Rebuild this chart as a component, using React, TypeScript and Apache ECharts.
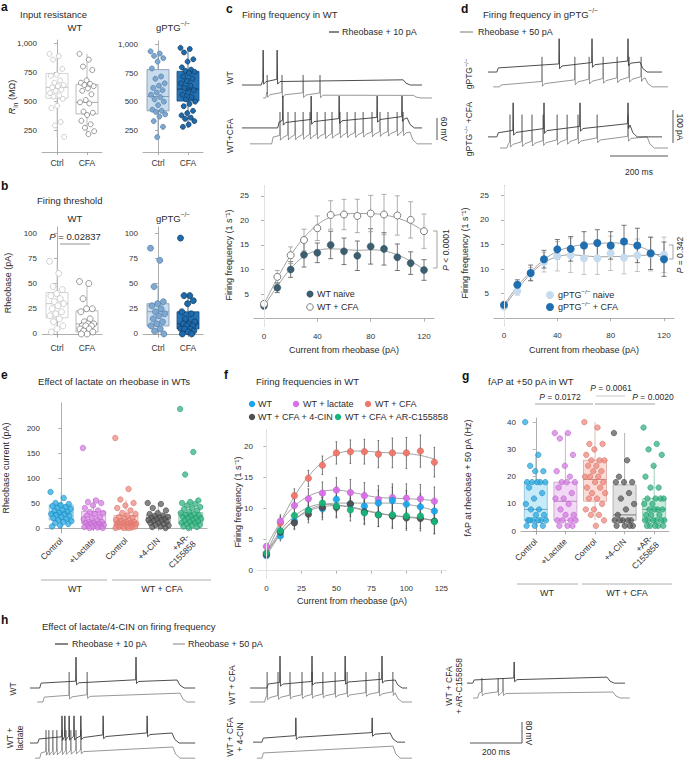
import React, { useEffect, useRef } from "react";
import * as echarts from "echarts";

const FONT = "'Liberation Sans', Arial, Helvetica, sans-serif";
const INK = "#2b2b2b";
const AXIS = "#9b9b9b";
const TITLE = 9.5;
const LEG = 9;
const AXT = 9;

/* ---------------- a: input resistance (MOhm) ---------------- */
const aCats = ["Ctrl", "CFA"];
const aYTicks = [250, 500, 750, 1000];
const aWtCtrl = [910, 890, 860, 780, 730, 720, 680, 660, 640, 630, 620, 600, 590, 570, 550, 540, 520, 460, 440, 320, 290, 190];
const aWtCfa = [910, 860, 800, 770, 680, 660, 650, 640, 630, 610, 590, 560, 510, 490, 480, 410, 400, 380, 330, 300, 270, 240, 215];
const aKoCtrl = [940, 920, 900, 880, 850, 790, 720, 700, 660, 640, 620, 600, 580, 560, 540, 520, 500, 470, 430, 420, 410, 390, 370, 330, 280, 190];
const aKoCfa = [970, 960, 930, 870, 850, 800, 780, 770, 760, 750, 720, 700, 680, 660, 640, 620, 600, 580, 560, 540, 520, 500, 480, 460, 420, 400, 380, 360, 350, 330, 300, 280];
const aWtBox = [[190, 525, 620, 740, 910], [215, 390, 490, 645, 910]];
const aKoBox = [[190, 420, 545, 780, 940], [270, 505, 610, 765, 970]];

/* ---------------- b: rheobase (pA) ---------------- */
const bYTicks = [0, 25, 50, 75, 100];
const bWtCtrl = [72, 60, 47, 44, 40, 38, 35, 32, 30, 28, 25, 22, 20, 18, 15, 12, 8, 5, 2];
const bWtCfa = [52, 50, 35, 25, 25, 22, 15, 12, 10, 10, 8, 8, 8, 5, 5, 3, 2, 0, 0];
const bKoCtrl = [85, 73, 47, 32, 30, 28, 25, 22, 20, 18, 15, 12, 10, 8, 5, 3, 0];
const bKoCfa = [95, 38, 38, 33, 30, 22, 20, 15, 12, 10, 10, 8, 8, 5, 5, 5, 3, 2, 0, 0];
const bWtBox = [[0, 16, 30, 41, 72], [0, 2, 10, 23, 52]];
const bKoBox = [[0, 8, 22, 30, 47], [0, 5, 10, 22, 38]];

/* ---------------- c / d: firing frequency vs current ---------------- */
const cdX = [0, 10, 20, 30, 40, 50, 60, 70, 80, 90, 100, 110, 120];
const cdXTicks = [0, 40, 80, 120];
const cdYTicks = [5, 10, 15, 20, 25];
const cNaiveMean = [2.6, 6.3, 10.0, 13.0, 13.4, 15.0, 13.7, 12.8, 14.7, 14.2, 12.5, 11.3, 9.9];
const cNaiveErr = [0.4, 1.0, 1.6, 2.5, 2.0, 2.8, 2.7, 3.0, 3.6, 3.3, 2.7, 2.3, 2.1];
const cNaiveFit = [2.5, 6.6, 10.2, 12.7, 13.9, 14.2, 14.1, 13.9, 14.0, 13.8, 13.0, 11.7, 10.0];
const cCfaMean = [3.0, 8.5, 12.9, 16.0, 18.4, 21.1, 21.2, 20.9, 21.4, 21.2, 21.0, 20.1, 17.8];
const cCfaErr = [0.5, 1.3, 1.7, 2.2, 2.5, 2.9, 3.1, 3.4, 3.7, 4.1, 4.0, 3.7, 3.5];
const cCfaFit = [3.0, 8.2, 12.9, 16.5, 19.1, 20.7, 21.3, 21.4, 21.4, 21.1, 20.5, 19.4, 17.8];
const dNaiveMean = [2.3, 5.5, 9.0, 11.4, 12.6, 12.8, 12.2, 12.2, 13.2, 12.3, 12.8, 13.0, 12.9];
const dNaiveErr = [0.3, 0.8, 1.3, 2.0, 3.0, 3.5, 3.3, 3.3, 3.5, 3.3, 3.3, 3.4, 3.6];
const dNaiveFit = [2.3, 5.9, 9.0, 11.3, 12.5, 12.9, 12.7, 12.5, 12.5, 12.6, 12.7, 12.9, 13.0];
const dCfaMean = [2.7, 6.8, 9.2, 12.0, 14.0, 14.1, 14.8, 15.3, 14.8, 15.6, 14.8, 13.2, 12.0];
const dCfaErr = [0.4, 1.0, 1.6, 1.8, 2.0, 2.5, 2.8, 2.7, 2.8, 3.3, 3.5, 3.3, 3.5];
const dCfaFit = [2.6, 6.5, 9.4, 11.9, 13.6, 14.5, 15.0, 15.2, 15.3, 15.2, 14.7, 13.6, 12.0];

/* ---------------- e: rheobase current with lactate / inhibitors ---------------- */
const eCats = ["Control", "+Lactate", "Control", "+4-CIN", "+AR-\nC155858"];
const eYTicks = [0, 50, 100, 150, 200];
const eWt = [72, 60, 50, 48, 46, 44, 42, 40, 38, 36, 34, 32, 30, 28, 28, 26, 24, 22, 20, 18, 16, 14, 12, 10, 8, 5, 3];
const eLac = [160, 55, 52, 50, 45, 40, 35, 32, 30, 28, 25, 22, 20, 18, 15, 12, 12, 10, 10, 8, 8, 6, 5, 4, 3, 2, 2, 1, 0, 0];
const eCfa = [180, 78, 57, 50, 45, 40, 35, 30, 28, 25, 22, 20, 18, 16, 15, 14, 12, 12, 10, 10, 10, 8, 8, 7, 6, 5, 5, 4, 3, 3, 2, 2, 1, 0, 0, 0];
const eCin = [50, 48, 40, 35, 30, 28, 25, 24, 22, 20, 20, 18, 18, 16, 15, 14, 12, 10, 10, 8, 6, 5, 3, 2, 0];
const eAr = [238, 152, 107, 55, 52, 50, 48, 45, 42, 40, 38, 35, 32, 30, 28, 26, 25, 24, 22, 20, 20, 18, 16, 15, 14, 12, 10, 10, 8, 6, 5, 3, 2, 0];
const eBox = [[2, 16, 30, 46, 72], [0, 9, 12, 33, 60], [0, 6, 12, 25, 57], [0, 11, 20, 26, 50], [0, 9, 24, 31, 55]];

/* ---------------- f: firing frequencies in WT ---------------- */
const fXTicks = [0, 25, 50, 75, 100, 125];
const fYTicks = [0, 5, 10, 15, 20];
const fWtMean = [2.4, 5.6, 8.0, 9.7, 10.0, 11.5, 10.7, 10.4, 10.9, 11.3, 10.7, 10.3, 9.6];
const fLacMean = [3.9, 8.0, 10.5, 11.6, 12.5, 13.0, 12.6, 12.1, 11.5, 11.8, 11.7, 11.6, 11.2];
const fCfaMean = [2.8, 7.7, 12.1, 14.9, 17.0, 19.0, 19.2, 19.2, 18.8, 19.0, 19.0, 19.3, 17.5];
const fCinMean = [2.6, 6.2, 7.7, 9.1, 10.2, 10.2, 10.8, 9.5, 9.0, 8.8, 8.5, 8.4, 8.0];
const fArMean = [2.8, 6.4, 8.9, 9.7, 10.9, 10.4, 9.8, 9.3, 9.0, 9.0, 8.8, 8.8, 7.9];
const fWtErr = [0.4, 0.8, 1.2, 1.5, 1.8, 2.0, 2.0, 2.1, 2.1, 2.2, 2.2, 2.1, 2.0];
const fLacErr = [0.5, 1.0, 1.3, 1.6, 1.8, 2.0, 2.1, 2.1, 2.2, 2.2, 2.3, 2.3, 2.3];
const fCfaErr = [0.5, 1.0, 1.1, 1.3, 1.5, 1.8, 1.9, 2.0, 2.2, 2.4, 2.5, 2.6, 2.4];
const fCinErr = [0.4, 0.9, 1.1, 1.4, 1.6, 1.7, 1.8, 1.9, 1.9, 2.0, 2.0, 2.0, 2.0];
const fArErr = [0.4, 0.9, 1.1, 1.4, 1.6, 1.7, 1.8, 1.9, 1.9, 2.0, 2.0, 2.0, 2.0];
const fWtFit = [2.4, 5.8, 8.2, 9.8, 10.6, 10.9, 10.9, 10.9, 10.9, 10.9, 10.7, 10.3, 9.7];
const fLacFit = [3.8, 7.8, 10.4, 12.0, 12.8, 13.0, 12.7, 12.2, 11.8, 11.7, 11.6, 11.5, 11.3];
const fCfaFit = [2.8, 7.7, 12.0, 15.2, 17.5, 18.8, 19.3, 19.3, 19.1, 19.0, 18.9, 18.6, 18.0];
const fCinFit = [2.7, 6.0, 8.2, 9.6, 10.3, 10.5, 10.3, 9.8, 9.3, 8.9, 8.6, 8.4, 8.1];
const fArFit = [2.8, 6.4, 8.8, 10.2, 10.7, 10.6, 10.2, 9.7, 9.2, 8.9, 8.7, 8.5, 8.0];

/* ---------------- g: fAP at +50 pA (Hz) ---------------- */
const gYTicks = [0, 10, 20, 30, 40];
const gWt = [40, 28, 24, 22, 22, 18, 18, 18, 18, 18, 16, 14, 12, 10, 8, 8, 6, 6, 4, 4, 4, 4, 4, 4, 2, 2, 2];
const gLac = [36, 36, 34, 28, 24, 22, 20, 18, 18, 18, 16, 14, 12, 12, 10, 8, 6, 6, 4, 4, 4, 4, 2, 2, 2];
const gCfa = [40, 38, 32, 32, 30, 28, 26, 26, 26, 24, 24, 22, 22, 20, 20, 20, 18, 18, 16, 16, 14, 14, 12, 12, 10, 8, 8, 6, 6, 4, 2];
const gCin = [36, 26, 20, 18, 18, 18, 14, 12, 10, 8, 6, 4, 4, 4, 4, 4, 2, 2, 2, 2];
const gAr = [38, 32, 30, 28, 24, 20, 16, 16, 12, 12, 12, 12, 10, 10, 8, 8, 8, 8, 6, 6, 6, 4, 4, 4, 4, 4, 4, 2, 2, 2, 2, 2];
const gBox = [[2, 4, 8, 18, 28], [2, 4, 11, 18, 36], [4, 11, 19, 26, 40], [2, 4, 6, 17, 36], [2, 4, 8, 12, 24]];

/* ---------------- voltage traces (time in ms, potential in mV) ---------------- */
const cWtTop = { start: 0, on: 68, off: 564, end: 630, rest: -68, plat0: -57, plat1: -54, peak: 26, spikes: [74, 123] };
const cWtBot = { start: 74, on: 84, off: 600, end: 665, rest: -103, plat0: -92, plat1: -96, peak: -41, spikes: [88, 140, 214, 273] };
const cCfaTop = { start: 0, on: 126, off: 578, end: 630, rest: -57, plat0: -41, plat1: -30, peak: 29, spikes: [143, 242, 340, 473, 560] };
const cCfaBot = { start: 28, on: 105, off: 588, end: 665, rest: -100, plat0: -82, plat1: -68, peak: -14, spikes: [133, 161, 186, 214, 238, 263, 291, 315, 343, 368, 396, 424, 455, 483, 511, 543, 564] };
const dKoTop = { start: 0, on: 32, off: 532, end: 609, rest: -60, plat0: -49, plat1: -33, peak: 30, spikes: [249, 364, 490] };
const dKoBot = { start: 18, on: 42, off: 550, end: 630, rest: -100, plat0: -95, plat1: -76, peak: -19, spikes: [189, 304, 354, 403, 452, 494, 536] };
const dCfaTop = { start: 0, on: 32, off: 497, end: 609, rest: -65, plat0: -54, plat1: -33, peak: 27, spikes: [88, 196, 322, 490] };
const dCfaBot = { start: 42, on: 67, off: 557, end: 630, rest: -95, plat0: -84, plat1: -65, peak: -5, spikes: [77, 119, 154, 193, 242, 277, 315, 382, 490] };
const hWtTop = { start: 0, on: 35, off: 515, end: 578, rest: -93, plat0: -76, plat1: -65, peak: 15, spikes: [161, 371] };
const hWtBot = { start: 25, on: 46, off: 525, end: 578, rest: -142, plat0: -125, plat1: -111, peak: -37, spikes: [137, 200] };
const hLacTop = { start: 0, on: 28, off: 497, end: 578, rest: -93, plat0: -79, plat1: -58, peak: 2, spikes: [112, 122, 137, 154, 178, 256, 410] };
const hLacBot = { start: 18, on: 35, off: 500, end: 578, rest: -146, plat0: -128, plat1: -107, peak: -48, spikes: [56, 66, 80, 94, 112, 126, 143, 161, 178] };
const hCfaTop = { start: 0, on: 60, off: 508, end: 550, rest: -93, plat0: -79, plat1: -65, peak: 19, spikes: [105, 217, 333, 462] };
const hCfaBot = { start: 0, on: 52, off: 508, end: 567, rest: -142, plat0: -125, plat1: -110, peak: -37, spikes: [60, 98, 140, 182, 217, 255, 298, 340, 406, 452, 500] };
const hCinTop = { start: 0, on: 32, off: 480, end: 532, rest: -90, plat0: -76, plat1: -58, peak: -5, spikes: [150, 417] };
const hCinBot = { start: 14, on: 32, off: 490, end: 556, rest: -146, plat0: -128, plat1: -104, peak: -60, spikes: [] as number[] };
const hArTop = { start: 0, on: 21, off: 490, end: 553, rest: -76, plat0: -65, plat1: -55, peak: -2, spikes: [165] };
const hArBot = { start: 21, on: 38, off: 511, end: 570, rest: -128, plat0: -111, plat1: -107, peak: -58, spikes: [52, 109, 126] };

/* ---------------- styles ---------------- */
const jit = (j: number) => ((j * 0.6180339887) % 1) - 0.5;

const wtOpenStyles = [
  { fill: "#ffffff", stroke: "#c9c9c9", median: "#bdbdbd", pt: "#ffffff", ptEdge: "#bcbcbc" },
  { fill: "#ffffff", stroke: "#a9a9a9", median: "#a0a0a0", pt: "#ffffff", ptEdge: "#6f6f6f" },
];
const koStyles = [
  { fill: "#c9dcee", stroke: "#8096aa", median: "#8096aa", pt: "#7fa8d0", ptEdge: "#527ea8" },
  { fill: "#2372b6", stroke: "#1a4f7e", median: "#103c63", pt: "#1f6aab", ptEdge: "#0d365c" },
];
const fiveStyles = [
  { fill: "#c8ebfa", stroke: "#84bcd6", median: "#5f9fbe", pt: "#2aa9e2", ptEdge: "#1a86b8", ptOpacity: 0.75 },
  { fill: "#f4d8f7", stroke: "#c8a0ce", median: "#b57fbd", pt: "#d57fe2", ptEdge: "#b35cc2", ptOpacity: 0.75 },
  { fill: "#fcdcd7", stroke: "#d9a6a0", median: "#c8857d", pt: "#ef8a7f", ptEdge: "#cf6a5f", ptOpacity: 0.75 },
  { fill: "#e1e1e1", stroke: "#a2a2a2", median: "#6e6e6e", pt: "#5c5c5c", ptEdge: "#3c3c3c", ptOpacity: 0.75 },
  { fill: "#c9ecdc", stroke: "#86c3a8", median: "#4ea883", pt: "#33b383", ptEdge: "#1f9266", ptOpacity: 0.75 },
];
const fColors = ["#1aa6ec", "#d86fe8", "#f0766a", "#4f4f4f", "#16b57a"];

function buildTrace(tr: any) {
  const { start, on, off, end, rest, plat0, plat1, peak, spikes } = tr;
  const lvl = (t: number) => plat0 + ((plat1 - plat0) * (t - on)) / (off - on);
  const pts: number[][] = [[start, rest], [on - 1, rest], [on + 4, lvl(on + 4)]];
  spikes.forEach((s: number, i: number) => {
    const next = i + 1 < spikes.length ? spikes[i + 1] : off;
    const gap = next - s;
    pts.push([s - 1.2, lvl(s) + 4]);
    pts.push([s, peak]);
    pts.push([s + 1.6, lvl(s) - 9]);
    if (gap > 12) pts.push([s + Math.min(10, gap * 0.5), lvl(s + 10) - 2]);
  });
  pts.push([off, lvl(off)]);
  pts.push([off + 10, rest + (lvl(off) - rest) * 0.35]);
  pts.push([off + 25, rest]);
  pts.push([end, rest]);
  pts.sort((a, b) => a[0] - b[0]);
  return pts;
}

function rich(size: number) {
  const base = { fontSize: size, fontFamily: FONT, fill: INK, lineHeight: size * 1.45 };
  return {
    n: { ...base },
    i: { ...base, fontStyle: "italic" },
    sup: { fontSize: size * 0.68, fontFamily: FONT, fill: INK, verticalAlign: "top" },
    sub: { fontSize: size * 0.72, fontFamily: FONT, fill: INK, verticalAlign: "bottom" },
  };
}

function buildOption() {
  const grids: any[] = [];
  const xAxes: any[] = [];
  const yAxes: any[] = [];
  const series: any[] = [];
  const graphics: any[] = [];

  const axLine = { show: true, lineStyle: { color: AXIS, width: 0.8 } };
  const axTick = { show: true, length: 3, lineStyle: { color: AXIS, width: 0.8 } };
  const axLabel = { color: "#333", fontSize: 8, fontFamily: FONT };

  const addGrid = (left: number, top: number, width: number, height: number) => {
    grids.push({ left, top, width, height, containLabel: false, outerBoundsMode: "none" });
    return grids.length - 1;
  };

  function boxPanel(o: any) {
    const gi = addGrid(o.left, o.top, o.width, o.height);
    const n = o.cats.length;
    xAxes.push({
      gridIndex: gi, type: "category", data: o.cats, position: "bottom",
      axisLine: axLine, axisTick: { ...axTick, alignWithLabel: true },
      axisLabel: { ...axLabel, fontSize: 8.5, interval: 0, rotate: o.rotate || 0, margin: o.labelMargin || 6, lineHeight: 9.5 },
      splitLine: { show: false },
    });
    const xv = xAxes.length;
    xAxes.push({ gridIndex: gi, type: "value", min: -0.5, max: n - 0.5, show: false, position: "bottom" });
    const yi = yAxes.length;
    yAxes.push({
      gridIndex: gi, type: "value", min: o.yMin, max: o.yMax,
      axisLine: axLine, axisTick: { ...axTick, customValues: o.yTicks },
      axisLabel: { ...axLabel, margin: 5, customValues: o.yTicks, formatter: o.yFmt || ((v: number) => String(v)) },
      splitLine: { show: false },
    });
    const styles = o.styles;
    series.push({
      type: "custom", xAxisIndex: xv, yAxisIndex: yi, silent: true, z: 2,
      data: o.stats.map((s: number[], i: number) => [i, ...s]),
      encode: { x: 0, y: [1, 2, 3, 4, 5] },
      renderItem: (_p: any, api: any) => {
        const i = api.value(0);
        const st = styles[i];
        const c = (k: number) => api.coord([i, api.value(k)]);
        const lo = c(1), q1 = c(2), md = c(3), q3 = c(4), hi = c(5);
        const x = lo[0];
        const bw = o.boxW;
        const ls = { stroke: st.stroke, lineWidth: 0.8 };
        return {
          type: "group",
          children: [
            { type: "line", shape: { x1: x, y1: lo[1], x2: x, y2: q1[1] }, style: ls },
            { type: "line", shape: { x1: x, y1: q3[1], x2: x, y2: hi[1] }, style: ls },
            { type: "rect", shape: { x: x - bw / 2, y: q3[1], width: bw, height: q1[1] - q3[1] }, style: { fill: st.fill, stroke: st.stroke, lineWidth: 0.8 } },
            { type: "line", shape: { x1: x - bw / 2, y1: md[1], x2: x + bw / 2, y2: md[1] }, style: { stroke: st.median, lineWidth: 0.9 } },
          ],
        };
      },
    });
    o.points.forEach((pts: number[], i: number) => {
      const st = styles[i];
      series.push({
        type: "scatter", xAxisIndex: xv, yAxisIndex: yi, silent: true, z: 3,
        symbolSize: o.size,
        data: pts.map((v, j) => [i + jit(j) * o.spread, v]),
        itemStyle: { color: st.pt, borderColor: st.ptEdge, borderWidth: 0.7, opacity: st.ptOpacity ?? 1 },
      });
    });
  }

  function linePanel(o: any) {
    const gi = addGrid(o.left, o.top, o.width, o.height);
    const xi = xAxes.length;
    xAxes.push({
      gridIndex: gi, type: "value", min: o.xMin, max: o.xMax,
      axisLine: axLine, axisTick: { ...axTick, customValues: o.xTicks },
      axisLabel: { ...axLabel, margin: 6, customValues: o.xTicks },
      splitLine: { show: false },
    });
    const yi = yAxes.length;
    yAxes.push({
      gridIndex: gi, type: "value", min: o.yMin, max: o.yMax,
      axisLine: axLine, axisTick: { ...axTick, customValues: o.yTicks },
      axisLabel: { ...axLabel, margin: 5, customValues: o.yTicks },
      splitLine: { show: false },
    });
    o.groups.forEach((g: any, k: number) => {
      series.push({
        type: "line", xAxisIndex: xi, yAxisIndex: yi, silent: true, z: 2,
        data: o.x.map((x: number, i: number) => [x, g.fit[i]]),
        smooth: 0.35, symbol: "none",
        lineStyle: { color: "#8c8c8c", width: 0.8 },
        markLine: k === 0 ? {
          silent: true, symbol: ["none", "none"], label: { show: false },
          lineStyle: { color: "#e2e2e2", width: 1, type: "solid" }, data: o.zeroLines,
        } : undefined,
      });
    });
    o.groups.forEach((g: any) => {
      series.push({
        type: "custom", xAxisIndex: xi, yAxisIndex: yi, silent: true, z: 3,
        data: o.x.map((x: number, i: number) => [x, g.mean[i], g.err[i]]),
        encode: { x: 0, y: 1 },
        renderItem: (_p: any, api: any) => {
          const x = api.value(0), m = api.value(1), e = api.value(2);
          const a = api.coord([x, m + e]);
          const b = api.coord([x, m - e]);
          const c = o.capW;
          const st = { stroke: g.errColor, lineWidth: 0.8 };
          return {
            type: "group",
            children: [
              { type: "line", shape: { x1: a[0], y1: a[1], x2: b[0], y2: b[1] }, style: st },
              { type: "line", shape: { x1: a[0] - c, y1: a[1], x2: a[0] + c, y2: a[1] }, style: st },
              { type: "line", shape: { x1: b[0] - c, y1: b[1], x2: b[0] + c, y2: b[1] }, style: st },
            ],
          };
        },
      });
    });
    o.groups.forEach((g: any) => {
      series.push({
        type: "scatter", xAxisIndex: xi, yAxisIndex: yi, silent: true, z: 4,
        symbolSize: g.size,
        data: o.x.map((x: number, i: number) => [x, g.mean[i]]),
        itemStyle: { color: g.fill, borderColor: g.edge, borderWidth: g.edgeW ?? 0, opacity: g.opacity ?? 1 },
      });
    });
  }

  function tracePane(left: number, top: number, width: number, height: number, msPerPx: number, mvPerPx: number, traces: any[]) {
    const gi = addGrid(left, top, width, height);
    const xi = xAxes.length;
    xAxes.push({ gridIndex: gi, type: "value", min: 0, max: width * msPerPx, show: false });
    const yi = yAxes.length;
    yAxes.push({ gridIndex: gi, type: "value", min: 40 - height * mvPerPx, max: 40, show: false });
    traces.forEach((t) => {
      series.push({
        type: "line", xAxisIndex: xi, yAxisIndex: yi, silent: true, z: 2, clip: false,
        data: buildTrace(t.tr), symbol: "none",
        lineStyle: { color: t.color, width: t.width },
      });
    });
  }

  /* ---- a ---- */
  const fmtK = (v: number) => v.toLocaleString("en-US");
  boxPanel({ left: 42, top: 40, width: 60, height: 112, cats: aCats, yMin: 60, yMax: 1030, yTicks: aYTicks, yFmt: fmtK, stats: aWtBox, points: [aWtCtrl, aWtCfa], styles: wtOpenStyles, boxW: 22, spread: 0.5, size: 5 });
  boxPanel({ left: 143, top: 41, width: 60, height: 111, cats: aCats, yMin: 60, yMax: 1030, yTicks: aYTicks, yFmt: fmtK, stats: aKoBox, points: [aKoCtrl, aKoCfa], styles: koStyles, boxW: 22, spread: 0.5, size: 5 });
  /* ---- b ---- */
  boxPanel({ left: 42, top: 227, width: 60, height: 110, cats: aCats, yMin: -3, yMax: 106, yTicks: bYTicks, stats: bWtBox, points: [bWtCtrl, bWtCfa], styles: wtOpenStyles, boxW: 22, spread: 0.5, size: 6 });
  boxPanel({ left: 143, top: 227, width: 60, height: 110, cats: aCats, yMin: -3, yMax: 106, yTicks: bYTicks, stats: bKoBox, points: [bKoCtrl, bKoCfa], styles: koStyles, boxW: 22, spread: 0.5, size: 6 });
  /* ---- e ---- */
  boxPanel({ left: 45, top: 403, width: 162, height: 130, cats: eCats, yMin: -10, yMax: 250, yTicks: eYTicks, rotate: 45, labelMargin: 6, stats: eBox, points: [eWt, eLac, eCfa, eCin, eAr], styles: fiveStyles, boxW: 24, spread: 0.66, size: 5.5 });
  /* ---- g ---- */
  boxPanel({ left: 521, top: 418, width: 148, height: 116, cats: eCats, yMin: -1, yMax: 41.5, yTicks: gYTicks, rotate: 45, labelMargin: 6, stats: gBox, points: [gWt, gLac, gCfa, gCin, gAr], styles: fiveStyles, boxW: 23, spread: 0.72, size: 5.5 });

  /* ---- c ---- */
  linePanel({
    left: 254, top: 186, width: 180, height: 140, xMin: -7.5, xMax: 127.5, xTicks: cdXTicks, yMin: -1.5, yMax: 27, yTicks: cdYTicks,
    x: cdX, capW: 2.5, zeroLines: [{ xAxis: 0 }],
    groups: [
      { mean: cNaiveMean, err: cNaiveErr, fit: cNaiveFit, errColor: "#555", fill: "#3b5f70", edge: "#2d4a58", edgeW: 0.5, size: 7 },
      { mean: cCfaMean, err: cCfaErr, fit: cCfaFit, errColor: "#9a9a9a", fill: "#ffffff", edge: "#6f6f6f", edgeW: 0.9, size: 7 },
    ],
  });
  /* ---- d ---- */
  linePanel({
    left: 494, top: 185.5, width: 180, height: 140, xMin: -7.5, xMax: 127.5, xTicks: cdXTicks, yMin: -1.5, yMax: 27, yTicks: cdYTicks,
    x: cdX, capW: 2.5, zeroLines: [{ xAxis: 0 }],
    groups: [
      { mean: dNaiveMean, err: dNaiveErr, fit: dNaiveFit, errColor: "#b5b5b5", fill: "#c6dbed", edge: "#c6dbed", edgeW: 0, size: 8 },
      { mean: dCfaMean, err: dCfaErr, fit: dCfaFit, errColor: "#555", fill: "#1f6eb0", edge: "#1f6eb0", edgeW: 0, size: 8 },
    ],
  });
  /* ---- f ---- */
  linePanel({
    left: 258, top: 430, width: 188, height: 148, xMin: -6, xMax: 128.3, xTicks: fXTicks, yMin: -1.2, yMax: 22.7, yTicks: fYTicks,
    x: cdX, capW: 0.8, zeroLines: [{ xAxis: 0 }, { yAxis: 0 }],
    groups: [
      { mean: fCfaMean, err: fCfaErr, fit: fCfaFit, errColor: "#555", fill: fColors[2], edge: "#c95a50", edgeW: 0.5, size: 6.5, opacity: 0.95 },
      { mean: fLacMean, err: fLacErr, fit: fLacFit, errColor: "#555", fill: fColors[1], edge: "#b656c4", edgeW: 0.5, size: 6.5, opacity: 0.95 },
      { mean: fWtMean, err: fWtErr, fit: fWtFit, errColor: "#555", fill: fColors[0], edge: "#1387c2", edgeW: 0.5, size: 6.5, opacity: 0.95 },
      { mean: fCinMean, err: fCinErr, fit: fCinFit, errColor: "#555", fill: fColors[3], edge: "#333", edgeW: 0.5, size: 6.5, opacity: 0.95 },
      { mean: fArMean, err: fArErr, fit: fArFit, errColor: "#555", fill: fColors[4], edge: "#0f9060", edgeW: 0.5, size: 6.5, opacity: 0.95 },
    ],
  });

  /* ---- traces ---- */
  const TOP = (tr: any) => ({ tr, color: "#3a3a3a", width: 0.9 });
  const BOT = (tr: any) => ({ tr, color: "#6a6a6a", width: 0.7 });
  tracePane(242, 45, 192, 62, 3.5, 2.7, [BOT(cWtBot), TOP(cWtTop)]);
  tracePane(242, 92, 192, 62, 3.5, 2.7, [BOT(cCfaBot), TOP(cCfaTop)]);
  tracePane(488, 35, 182, 62, 3.5, 2.7, [BOT(dKoBot), TOP(dKoTop)]);
  tracePane(488, 98, 182, 55, 3.5, 2.7, [BOT(dCfaBot), TOP(dCfaTop)]);
  tracePane(30, 650, 168, 56, 3.5, 3.5, [BOT(hWtBot), TOP(hWtTop)]);
  tracePane(30, 705, 168, 56, 3.5, 3.5, [BOT(hLacBot), TOP(hLacTop)]);
  tracePane(250, 650, 165, 56, 3.5, 3.5, [BOT(hCfaBot), TOP(hCfaTop)]);
  tracePane(253, 705, 162, 56, 3.5, 3.5, [BOT(hCinBot), TOP(hCinTop)]);
  tracePane(467, 650, 165, 56, 3.5, 3.5, [BOT(hArBot), TOP(hArTop)]);

  /* ---- graphics: texts, legends, annotations ---- */
  const txt = (x: number, y: number, text: string, o: any = {}) => ({
    type: "text", x, y, rotation: o.rot || 0, silent: true, z: 10,
    style: {
      text, fontSize: o.size || LEG, fontFamily: FONT, fontWeight: o.bold ? "bold" : "normal",
      fill: o.color || INK, align: o.align || "left", verticalAlign: "middle",
      rich: o.rich, lineHeight: o.lh,
    },
  });
  const ln = (x1: number, y1: number, x2: number, y2: number, color = "#8c8c8c", w = 0.8) => ({
    type: "line", silent: true, z: 10, shape: { x1, y1, x2, y2 }, style: { stroke: color, lineWidth: w },
  });
  const dot = (x: number, y: number, r: number, fill: string, stroke?: string) => ({
    type: "circle", silent: true, z: 10, shape: { cx: x, cy: y, r }, style: { fill, stroke: stroke || null, lineWidth: 0.9 },
  });
  const RT = rich(TITLE);
  const RL = rich(LEG);
  const RA = rich(AXT);
  const V = Math.PI / 2;

  // panel letters
  [["a", 1, 7], ["b", 1, 186], ["c", 226, 9], ["d", 461, 9], ["e", 1, 375], ["f", 224, 375], ["g", 462, 376], ["h", 1, 620]].forEach(([l, x, y]: any) =>
    graphics.push(txt(x, y, l, { bold: true, size: 12, color: "#111" })));

  // titles
  graphics.push(txt(20, 14, "Input resistance", { size: TITLE }));
  graphics.push(txt(75, 27, "WT", { align: "center", size: TITLE }));
  graphics.push(txt(173, 27, "{n|gPTG}{sup|−/−}", { align: "center", rich: RT }));
  graphics.push(txt(37, 200, "Firing threshold", { size: TITLE }));
  graphics.push(txt(75, 218, "WT", { align: "center", size: TITLE }));
  graphics.push(txt(173, 218, "{n|gPTG}{sup|−/−}", { align: "center", rich: RT }));
  graphics.push(txt(242, 14, "Firing frequency in WT", { size: TITLE }));
  graphics.push(txt(483, 14, "{n|Firing frequency in gPTG}{sup|−/−}", { rich: RT }));
  graphics.push(txt(114, 381, "Effect of lactate on rheobase in WTs", { align: "center", size: TITLE }));
  graphics.push(txt(256, 381, "Firing frequencies in WT", { size: TITLE }));
  graphics.push(txt(488, 381, "fAP at +50 pA in WT", { size: TITLE }));
  graphics.push(txt(42, 626, "Effect of lactate/4-CIN on firing frequency", { size: TITLE }));

  // axis titles
  graphics.push(txt(12, 97, "{i|R}{sub|in}{n| (MΩ)}", { rot: V, align: "center", rich: RA }));
  graphics.push(txt(8, 283, "Rheobase (pA)", { rot: V, align: "center", size: AXT }));
  graphics.push(txt(229, 255, "Firing frequency (1 s⁻¹)", { rot: V, align: "center", size: AXT }));
  graphics.push(txt(465, 253, "Firing frequency (1 s⁻¹)", { rot: V, align: "center", size: AXT }));
  graphics.push(txt(6, 468, "Rheobase current (pA)", { rot: V, align: "center", size: AXT }));
  graphics.push(txt(238, 502, "Firing frequency (1 s⁻¹)", { rot: V, align: "center", size: AXT }));
  graphics.push(txt(468, 478, "fAP at rheobase + 50 pA (Hz)", { rot: V, align: "center", size: AXT }));
  graphics.push(txt(344, 350, "Current from rheobase (pA)", { align: "center", size: AXT }));
  graphics.push(txt(584, 350, "Current from rheobase (pA)", { align: "center", size: AXT }));
  graphics.push(txt(352, 601, "Current from rheobase (pA)", { align: "center", size: AXT }));

  // b p-value
  graphics.push(txt(75, 236, "{i|P}{n| = 0.02837}", { align: "center", rich: rich(9.5) }));
  graphics.push(ln(60, 244, 90, 244, "#777"));

  // trace legends
  graphics.push(ln(329, 32, 339, 32, "#444", 1.3));
  graphics.push(txt(342, 32, "Rheobase + 10 pA"));
  graphics.push(ln(460, 32, 473, 32, "#555", 0.8));
  graphics.push(txt(478, 32, "Rheobase + 50 pA"));
  graphics.push(ln(55, 644, 68, 644, "#444", 1.3));
  graphics.push(txt(72, 644, "Rheobase + 10 pA"));
  graphics.push(ln(173, 644, 185, 644, "#666", 0.8));
  graphics.push(txt(188, 644, "Rheobase + 50 pA"));

  // trace labels
  graphics.push(txt(230, 78, "WT", { rot: V, align: "center", size: 8.5 }));
  graphics.push(txt(230, 136, "WT+CFA", { rot: V, align: "center", size: 8.5 }));
  graphics.push(txt(469, 74, "{n|gPTG}{sup|−/−}", { rot: V, align: "center", rich: rich(8.5) }));
  graphics.push(txt(469, 129, "{n|gPTG}{sup|−/−}{n| +CFA}", { rot: V, align: "center", rich: rich(8.5) }));
  graphics.push(txt(13, 689, "WT", { rot: V, align: "center", size: 8.5 }));
  graphics.push(txt(15, 738, "WT +\nlactate", { rot: V, align: "center", lh: 10, size: 8.5 }));
  graphics.push(txt(232, 685, "WT + CFA", { rot: V, align: "center", size: 8.5 }));
  graphics.push(txt(235, 737, "WT + CFA\n+ 4-CIN", { rot: V, align: "center", lh: 10, size: 8.5 }));
  graphics.push(txt(454, 686, "WT + CFA\n+ AR-C155858", { rot: V, align: "center", lh: 10, size: 8.5 }));

  // scale bars
  graphics.push(ln(437, 118, 437, 140, "#444", 0.9));
  graphics.push(txt(444, 129, "60 mV", { rot: -V, align: "center", size: 8.5 }));
  graphics.push(ln(673, 110, 673, 143, "#444", 0.9));
  graphics.push(txt(680, 127, "100 pA", { rot: -V, align: "center", size: 8.5 }));
  graphics.push(ln(610, 156, 668, 156, "#444", 0.9));
  graphics.push(txt(639, 172, "200 ms", { align: "center", size: 8.5 }));
  graphics.push(ln(522, 722, 522, 743, "#444", 0.9));
  graphics.push(txt(529, 733, "80 mV", { rot: -V, align: "center", size: 8.5 }));
  graphics.push(ln(470, 743, 522, 743, "#444", 0.9));
  graphics.push(txt(496, 752, "200 ms", { align: "center", size: 8.5 }));

  // c legend + stats
  graphics.push(dot(310, 294, 3.5, "#3b5f70"));
  graphics.push(txt(317, 294, "WT naive"));
  graphics.push(dot(310, 307, 3.3, "#ffffff", "#6f6f6f"));
  graphics.push(txt(317, 307, "WT + CFA"));
  graphics.push(ln(433, 231, 437, 231));
  graphics.push(ln(437, 231, 437, 268));
  graphics.push(ln(433, 268, 437, 268));
  graphics.push(txt(446, 250, "{i|P}{n| < 0.0001}", { rot: V, align: "center", rich: rich(8.5) }));

  // d legend + stats
  graphics.push(dot(550, 295, 4, "#c6dbed"));
  graphics.push(txt(558, 295, "{n|gPTG}{sup|−/−}{n| naive}", { rich: RL }));
  graphics.push(dot(550, 307, 4, "#1f6eb0"));
  graphics.push(txt(558, 307, "{n|gPTG}{sup|−/−}{n| + CFA}", { rich: RL }));
  graphics.push(ln(669, 245, 673, 245));
  graphics.push(ln(673, 245, 673, 259));
  graphics.push(ln(669, 259, 673, 259));
  graphics.push(txt(680, 255, "{i|P}{n| = 0.342}", { rot: V, align: "center", rich: rich(8.5) }));

  // f legend
  graphics.push(dot(252, 404, 3.2, fColors[0]));
  graphics.push(txt(258, 404, "WT"));
  graphics.push(dot(296, 404, 3.2, fColors[1]));
  graphics.push(txt(303, 404, "WT + lactate"));
  graphics.push(dot(368, 404, 3.2, fColors[2]));
  graphics.push(txt(375, 404, "WT + CFA"));
  graphics.push(dot(252, 417, 3.2, fColors[3]));
  graphics.push(txt(258, 417, "WT + CFA + 4-CIN"));
  graphics.push(dot(338, 417, 3.2, fColors[4]));
  graphics.push(txt(345, 417, "WT + CFA + AR-C155858"));

  // e/g group labels
  graphics.push(ln(41, 580, 107, 580, "#9a9a9a"));
  graphics.push(ln(112, 580, 211, 580, "#9a9a9a"));
  graphics.push(txt(75, 589, "WT", { align: "center" }));
  graphics.push(txt(162, 589, "WT + CFA", { align: "center" }));
  graphics.push(ln(517, 584, 578, 584, "#9a9a9a"));
  graphics.push(ln(582, 584, 672, 584, "#9a9a9a"));
  graphics.push(txt(547, 593, "WT", { align: "center" }));
  graphics.push(txt(627, 593, "WT + CFA", { align: "center" }));

  // g p-values
  graphics.push(txt(560, 397, "{i|P}{n| = 0.0172}", { align: "center", rich: rich(8.5) }));
  graphics.push(ln(535, 404, 593, 404, "#8c8c8c"));
  graphics.push(txt(611, 388, "{i|P}{n| = 0.0061}", { align: "center", rich: rich(8.5) }));
  graphics.push(ln(596, 396, 625, 396, "#c8c8c8", 1));
  graphics.push(txt(653, 397, "{i|P}{n| = 0.0020}", { align: "center", rich: rich(8.5) }));
  graphics.push(ln(595, 404, 655, 404, "#8c8c8c"));

  return {
    animation: false,
    backgroundColor: "#ffffff",
    textStyle: { fontFamily: FONT },
    grid: grids,
    xAxis: xAxes,
    yAxis: yAxes,
    series,
    graphic: { elements: graphics },
  };
}

export default function App() {
  const ref = useRef<HTMLDivElement>(null);
  useEffect(() => {
    const chart = echarts.init(ref.current!, null, { renderer: "svg" });
    chart.setOption(buildOption() as any);
    return () => chart.dispose();
  }, []);
  return (
    <div
      ref={ref}
      style={{ position: "absolute", left: 0, top: 0, width: 685, height: 762, background: "#fff" }}
    />
  );
}
